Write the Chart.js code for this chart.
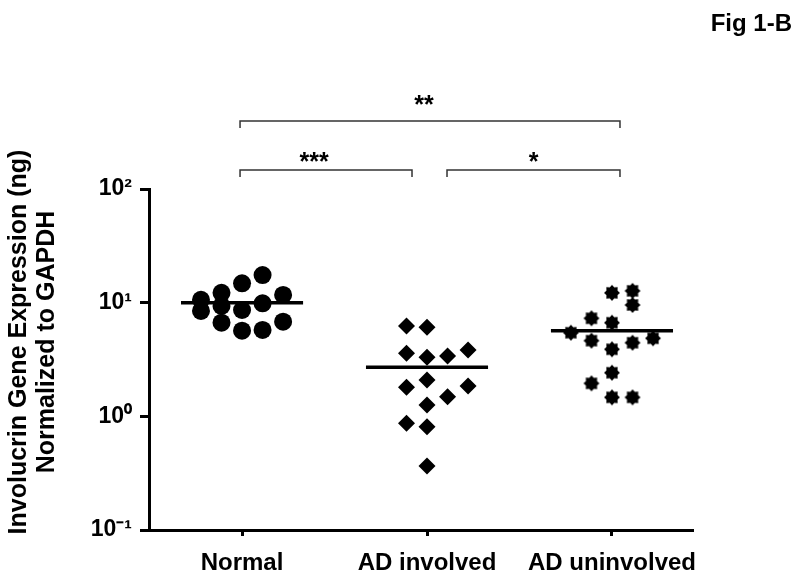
<!DOCTYPE html>
<html><head><meta charset="utf-8">
<script src="https://cdn.jsdelivr.net/npm/chart.js@4.4.1/dist/chart.umd.min.js"></script>
<style>html,body{margin:0;padding:0;background:#fff;overflow:hidden}#wrap{width:800px;height:581px;position:relative}canvas{display:block}</style>
</head><body><div id="wrap"><canvas id="c" width="800" height="581"></canvas></div>
<script>
// ---- data ----
const categories = ['Normal', 'AD involved', 'AD uninvolved'];
const normalValues = [10.6, 8.45, 12.2, 9.35, 6.67, 14.8, 8.62, 5.67, 17.5, 9.87, 5.75, 11.7, 6.8];
const normalColumns = [-2, -2, -1, -1, -1, 0, 0, 0, 1, 1, 1, 2, 2];
const involvedValues = [6.23, 6.07, 3.59, 3.31, 3.40, 3.83, 2.09, 1.80, 1.85, 1.49, 1.26, 0.869, 0.811, 0.366];
const involvedColumns = [-1, 0, -1, 0, 1, 2, 0, -1, 2, 1, 0, -1, 0, 0];
const uninvolvedValues = [5.44, 7.29, 4.63, 1.95, 12.2, 6.66, 3.89, 2.42, 1.47, 12.7, 9.54, 4.44, 1.47, 4.86];
const uninvolvedColumns = [-2, -1, -1, -1, 0, 0, 0, 0, 0, 1, 1, 1, 1, 2];
const medians = [10.0, 2.70, 5.67];
const yTickValues = [0.1, 1, 10, 100];
const yTickLabels = ['10⁻¹', '10⁰', '10¹', '10²'];
const comparisons = [[0, 2, '**'], [0, 1, '***'], [1, 2, '*']];
const yTitleLines = ['Involucrin Gene Expression (ng)', 'Normalized to GAPDH'];
const figLabel = 'Fig 1-B';

// ---- styling constants ----
const FONT = '"Liberation Sans", Arial, Helvetica, sans-serif';
const JITTER = 0.111;
const MEDIAN_HALF = 0.33;

function points(groupIndex, values, cols) {
  return values.map((v, i) => ({ x: groupIndex + cols[i] * JITTER, y: v }));
}
function medianLine(groupIndex) {
  return [{ x: groupIndex - MEDIAN_HALF, y: medians[groupIndex] }, { x: groupIndex + MEDIAN_HALF, y: medians[groupIndex] }];
}

// asterisk-like blob marker
const star = document.createElement('canvas');
star.width = 18; star.height = 18;
(function () {
  const g = star.getContext('2d');
  g.fillStyle = '#000';
  g.beginPath();
  const n = 8, ro = 8, ri = 6;
  for (let i = 0; i < n * 2; i++) {
    const r = i % 2 === 0 ? ro : ri;
    const a = (Math.PI * i) / n - Math.PI / 2;
    const px = 9 + r * Math.cos(a), py = 9 + r * Math.sin(a);
    if (i === 0) g.moveTo(px, py); else g.lineTo(px, py);
  }
  g.closePath();
  g.fill();
})();

const overlay = {
  id: 'overlay',
  afterDraw(chart) {
    const ctx = chart.ctx;
    const xs = chart.scales.x;
    ctx.save();
    // figure label
    ctx.fillStyle = '#000';
    ctx.font = 'bold 24px ' + FONT;
    ctx.textAlign = 'right';
    ctx.textBaseline = 'alphabetic';
    ctx.fillText(figLabel, 792, 31);
    // y axis title
    ctx.save();
    ctx.translate(0, 342);
    ctx.rotate(-Math.PI / 2);
    ctx.textAlign = 'center';
    ctx.textBaseline = 'middle';
    ctx.font = 'bold 25px ' + FONT;
    ctx.fillText(yTitleLines[0], 0, 19);
    ctx.fillText(yTitleLines[1], 0, 47);
    ctx.restore();
    // significance brackets
    ctx.strokeStyle = '#333';
    ctx.lineWidth = 1.5;
    comparisons.forEach(([a, b, label]) => {
      const top = (a === 0 && b === 2);
      const lineY = top ? 121 : 170;
      const textY = top ? 100 : 157;
      const x1 = xs.getPixelForValue(a) + (a === 1 ? 20 : -2);
      const x2 = xs.getPixelForValue(b) + (b === 1 ? -15 : 8);
      ctx.beginPath();
      ctx.moveTo(x1, lineY + 7);
      ctx.lineTo(x1, lineY);
      ctx.lineTo(x2, lineY);
      ctx.lineTo(x2, lineY + 7);
      ctx.stroke();
      ctx.font = 'bold 25px ' + FONT;
      ctx.textAlign = 'center';
      ctx.textBaseline = 'alphabetic';
      const m = ctx.measureText(label);
      const cx = (x1 + x2) / 2 - 6 * (label.length - 1);
      ctx.fillText(label, cx, textY + m.actualBoundingBoxAscent - (m.actualBoundingBoxAscent + m.actualBoundingBoxDescent) / 2);
    });
    ctx.restore();
  }
};

new Chart(document.getElementById('c'), {
  type: 'scatter',
  data: {
    datasets: [
      { label: categories[0], data: points(0, normalValues, normalColumns), pointStyle: 'circle', pointRadius: 9, backgroundColor: '#000', borderWidth: 0 },
      { label: categories[1], data: points(1, involvedValues, involvedColumns), pointStyle: 'rectRot', pointRadius: 8.5, backgroundColor: '#000', borderWidth: 0 },
      { label: categories[2], data: points(2, uninvolvedValues, uninvolvedColumns), pointStyle: star, pointRadius: 9, backgroundColor: '#000', borderWidth: 0 },
      ...[0, 1, 2].map(i => ({ label: 'median ' + categories[i], data: medianLine(i), showLine: true, borderColor: '#000', borderWidth: 3.5, pointRadius: 0, fill: false }))
    ]
  },
  options: {
    responsive: false,
    animation: false,
    devicePixelRatio: 1,
    layout: { padding: { left: 0, right: 107, top: 189, bottom: 0 } },
    plugins: { legend: { display: false }, tooltip: { enabled: false } },
    scales: {
      x: {
        type: 'linear',
        min: -0.503, max: 2.438,
        afterFit: s => { s.height = 51; },
        afterBuildTicks: s => { s.ticks = categories.map((c, i) => ({ value: i })); },
        ticks: {
          callback: v => categories[v],
          color: '#000',
          font: { family: FONT, size: 24, weight: 'bold' },
          padding: 13,
          maxRotation: 0,
          autoSkip: false
        },
        grid: { display: true, drawOnChartArea: false, drawTicks: true, tickLength: 6, tickWidth: 3, tickColor: '#000' },
        border: { display: true, width: 3, color: '#000' }
      },
      y: {
        type: 'logarithmic',
        min: 0.1, max: 100,
        afterFit: s => { s.width = 149; },
        afterBuildTicks: s => { s.ticks = yTickValues.map(v => ({ value: v })); },
        ticks: {
          callback: v => yTickLabels[yTickValues.indexOf(v)],
          color: '#000',
          font: { family: FONT, size: 23, weight: 'bold' },
          padding: 8,
          autoSkip: false
        },
        grid: { display: true, drawOnChartArea: false, drawTicks: true, tickLength: 9, tickWidth: 3, tickColor: '#000' },
        border: { display: true, width: 3, color: '#000' }
      }
    }
  },
  plugins: [overlay]
});
</script></body></html>
